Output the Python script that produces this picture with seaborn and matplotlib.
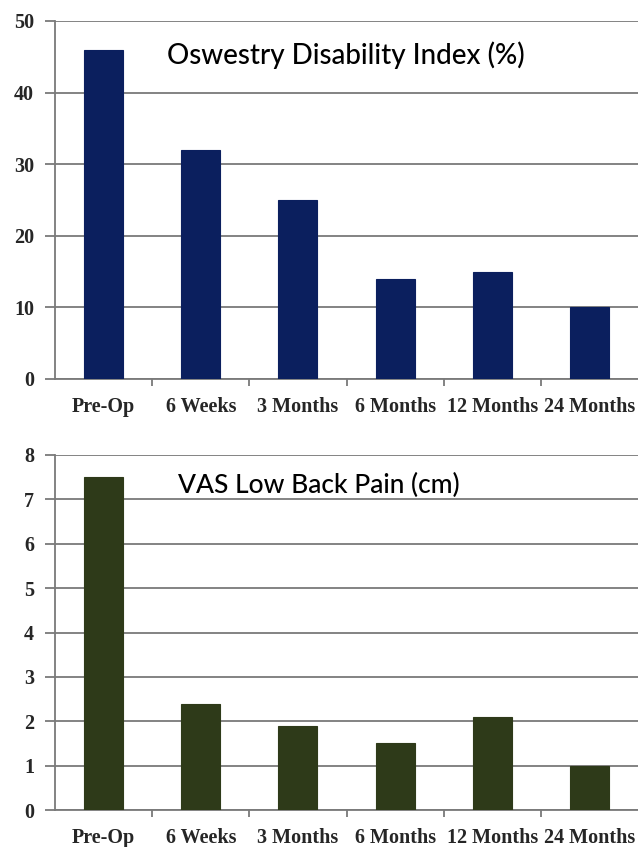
import matplotlib
matplotlib.use('Agg')
import matplotlib.pyplot as plt
import seaborn as sns
import pandas as pd
from matplotlib.ticker import FixedLocator

# data
periods = ['Pre-Op', '6 Weeks', '3 Months', '6 Months', '12 Months', '24 Months']
odi_values = [46, 32, 25, 14, 15, 10]
vas_values = [7.5, 2.4, 1.9, 1.5, 2.1, 1.0]

sns.set_theme(style='white')
plt.rcParams['font.family'] = ['Liberation Serif', 'DejaVu Serif']

fig = plt.figure(figsize=(6.38, 8.47), dpi=100)
ax1 = fig.add_axes([55 / 638, 1 - 379 / 847, 1 - 55 / 638, (379 - 21) / 847])
ax2 = fig.add_axes([55 / 638, 1 - 810 / 847, 1 - 55 / 638, (810 - 455) / 847])


def draw(ax, values, color, title, ymax, title_x, title_y, title_size):
    df = pd.DataFrame({'period': periods, 'value': values})
    sns.barplot(data=df, x='period', y='value', color=color, width=0.4,
                saturation=1, ax=ax, zorder=3, edgecolor=color, linewidth=0.8)
    ax.set_xlim(-0.5, len(periods) - 0.5)
    ax.set_ylim(0, ymax)
    ax.set_xlabel('')
    ax.set_ylabel('')
    ax.yaxis.grid(True, color='#7a7a7a', linewidth=1.3, zorder=0)
    ax.set_axisbelow(True)
    for s in ['top', 'right']:
        ax.spines[s].set_visible(False)
    ax.spines['left'].set_color('#7a7a7a')
    ax.spines['bottom'].set_color('#7a7a7a')
    ax.spines['left'].set_linewidth(1.3)
    ax.spines['bottom'].set_linewidth(1.3)
    ax.xaxis.set_minor_locator(FixedLocator([i + 0.5 for i in range(len(periods) - 1)]))
    ax.tick_params(axis='x', which='major', length=0, pad=13, labelsize=14.5)
    ax.tick_params(axis='x', which='minor', bottom=True, length=5, width=1.3, color='#7a7a7a')
    ax.tick_params(axis='y', left=True, length=7, width=1.3, color='#7a7a7a', labelsize=14.5, pad=8)
    for lab in ax.get_xticklabels() + ax.get_yticklabels():
        lab.set_fontweight('bold')
    ax.text(title_x, title_y, title, transform=ax.transAxes, fontsize=title_size,
            family=['Lato', 'DejaVu Sans'], fontweight='medium', va='center', ha='left', color='black')


draw(ax1, odi_values, '#0b1f5e', 'Oswestry Disability Index (%)', 50, (167 - 55) / 583, 0.905, 20)
draw(ax2, vas_values, '#2e3a19', 'VAS Low Back Pain (cm)', 8, (178 - 55) / 583, 0.915, 19)
ax1.set_yticks(range(0, 51, 10))
ax2.set_yticks(range(0, 9))

fig.savefig('out.png', dpi=100)
